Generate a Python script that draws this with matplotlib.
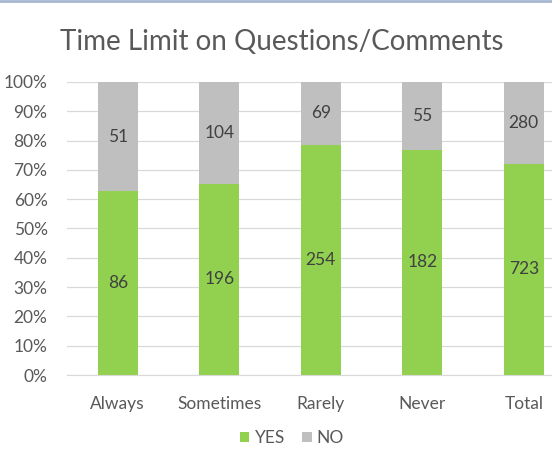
import matplotlib
matplotlib.use("Agg")
import matplotlib.pyplot as plt
import numpy as np
from matplotlib.ticker import PercentFormatter
from matplotlib.lines import Line2D

categories = ["Always", "Sometimes", "Rarely", "Never", "Total"]
yes_vals = [86, 196, 254, 182, 723]
no_vals = [51, 104, 69, 55, 280]
y_ticks = [0, 10, 20, 30, 40, 50, 60, 70, 80, 90, 100]

plt.rcParams['font.family'] = ['Lato', 'DejaVu Sans']

fig = plt.figure(figsize=(5.52, 4.55), dpi=100)
fig.patch.set_facecolor('white')

W, H = 552, 455
left, right = 67, 67 + 5 * 101.5
bottom, top = 375, 82
ax = fig.add_axes([left / W, 1 - bottom / H, (right - left) / W, (bottom - top) / H])

yes = np.array(yes_vals, dtype=float)
no = np.array(no_vals, dtype=float)
tot = yes + no
yes_p = yes / tot * 100
no_p = no / tot * 100
x = np.arange(len(categories))

green = '#92D050'
gray = '#BFBFBF'
bw = 0.39
b1 = ax.bar(x, yes_p, width=bw, color=green, label='YES', zorder=3)
b2 = ax.bar(x, no_p, width=bw, bottom=yes_p, color=gray, label='NO', zorder=3)

for i in range(len(x)):
    ax.text(x[i], yes_p[i] / 2, str(yes_vals[i]), ha='center', va='center',
            fontsize=12.5, color='#404040', zorder=4)
    ax.text(x[i], yes_p[i] + no_p[i] / 2, str(no_vals[i]), ha='center', va='center',
            fontsize=12.5, color='#404040', zorder=4)

ax.set_xlim(-0.5, len(categories) - 0.5)
ax.set_ylim(0, 100)
ax.set_yticks(y_ticks)
ax.yaxis.set_major_formatter(PercentFormatter(decimals=0))
ax.set_xticks(x)
ax.set_xticklabels(categories)
ax.tick_params(axis='both', length=0, labelsize=12.5, labelcolor='#595959')
ax.tick_params(axis='y', pad=14)
ax.tick_params(axis='x', pad=15)
ax.grid(axis='y', color='#D9D9D9', linewidth=0.9, zorder=0)
for s in ['top', 'right', 'left']:
    ax.spines[s].set_visible(False)
ax.spines['bottom'].set_color('#D9D9D9')

fig.text(282 / W, 1 - 42 / H, "Time Limit on Questions/Comments", ha='center', va='center',
         fontsize=20, color='#595959')

leg = fig.legend(handles=[b1, b2], labels=['YES', 'NO'], loc='center',
                 bbox_to_anchor=(292 / W, 1 - 438 / H), ncol=2, frameon=False,
                 fontsize=12.5, handlelength=0.55, handleheight=0.55, handletextpad=0.3,
                 columnspacing=1.0, labelcolor='#595959')

# chart border (top edge)
fig.lines.append(Line2D([0, 1], [1 - 1 / H, 1 - 1 / H], transform=fig.transFigure,
                        color='#A6B8CF', linewidth=2))

fig.savefig("out.png", dpi=100)
